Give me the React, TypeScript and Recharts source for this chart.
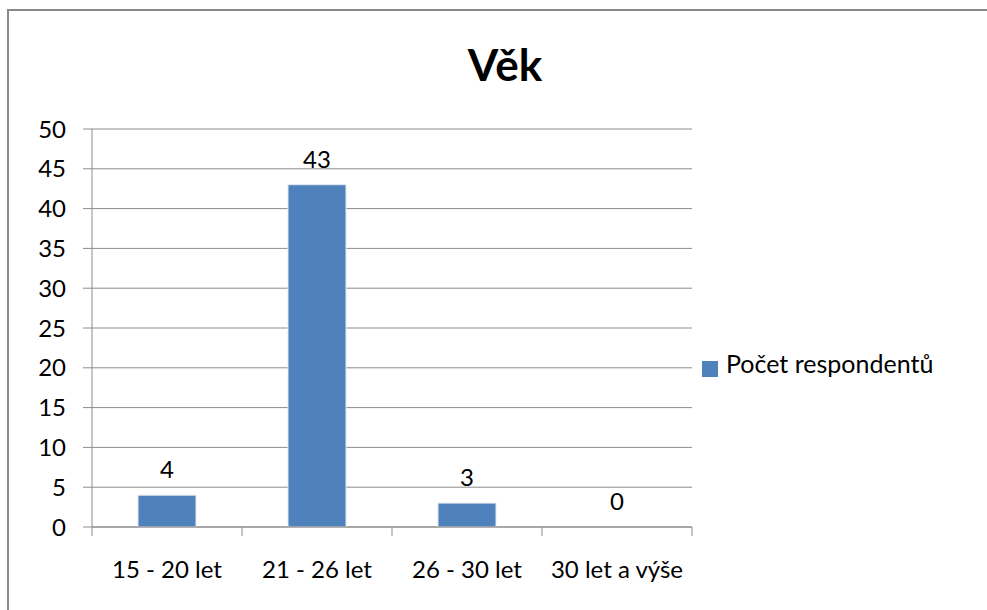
import React from "react";
import {
  ComposedChart,
  Bar,
  Line,
  XAxis,
  YAxis,
  CartesianGrid,
  Legend,
  LabelList,
} from "recharts";

const title = "Věk";
const seriesName = "Počet respondentů";
const categories = ["15 - 20 let", "21 - 26 let", "26 - 30 let", "30 let a výše"];
const respondents = [4, 43, 3, 0];
const yTicks = [0, 5, 10, 15, 20, 25, 30, 35, 40, 45, 50];

const data = categories.map((c, i) => ({ category: c, value: respondents[i] }));

const FONT = "Lato, 'Open Sans', sans-serif";
const GRAY = "#8c8c8c";
const COUNT = categories.length;

// Category tick: label at the band centre, tick marks at the band edges
const CategoryTick = (props: any) => {
  const { x, y, payload, index } = props;
  const half = payload && payload.offset ? payload.offset : 0;
  return (
    <g>
      <line x1={x - half} y1={y} x2={x - half} y2={y + 9} stroke={GRAY} />
      {index === COUNT - 1 && (
        <line x1={x + half} y1={y} x2={x + half} y2={y + 9} stroke={GRAY} />
      )}
      <text
        x={x}
        y={y + 42}
        dy="0.355em"
        textAnchor="middle"
        fill="#000"
        fontSize={24}
        fontFamily={FONT}
      >
        {payload.value}
      </text>
    </g>
  );
};

export default function App() {
  return (
    <div
      style={{
        position: "absolute",
        left: 0,
        top: 0,
        width: 987,
        height: 610,
        overflow: "hidden",
        background: "#fff",
        fontFamily: FONT,
      }}
    >
      <div
        style={{
          position: "absolute",
          left: 7,
          top: 9,
          width: 1400,
          height: 900,
          borderLeft: "2px solid #8a8a8a",
          borderTop: "2px solid #8a8a8a",
          boxSizing: "border-box",
        }}
      />
      <div
        style={{
          position: "absolute",
          left: 392,
          top: 34,
          width: 226,
          textAlign: "center",
          fontSize: 44,
          fontWeight: 700,
          color: "#000",
          lineHeight: "60px",
        }}
      >
        {title}
      </div>
      <div style={{ position: "absolute", left: 0, top: 0 }}>
        <ComposedChart
          width={987}
          height={610}
          data={data}
          margin={{ top: 129, right: 15, bottom: 33, left: 32 }}
        >
          <CartesianGrid vertical={false} stroke={GRAY} strokeWidth={1} />
          <XAxis
            dataKey="category"
            interval={0}
            axisLine={{ stroke: GRAY }}
            tickLine={false}
            tickSize={0}
            tickMargin={0}
            height={50}
            tick={<CategoryTick />}
          />
          <YAxis
            domain={[0, 50]}
            ticks={yTicks}
            interval={0}
            width={60}
            axisLine={{ stroke: GRAY }}
            tickLine={{ stroke: GRAY }}
            tickSize={9}
            tickMargin={17}
            tick={{ fill: "#000", fontSize: 24, fontFamily: FONT }}
          />
          <Legend
            layout="vertical"
            align="right"
            verticalAlign="middle"
            iconType="square"
            iconSize={16}
            wrapperStyle={{ left: 702, top: 348, right: "auto", width: 280 }}
            formatter={(v) => (
              <span
                style={{
                  color: "#000",
                  fontSize: 25,
                  fontFamily: FONT,
                  paddingLeft: 4,
                }}
              >
                {v}
              </span>
            )}
          />
          <Bar
            dataKey="value"
            name={seriesName}
            fill="#4F81BD"
            stroke="#e4e9f0"
            strokeWidth={1}
            barSize={58}
            isAnimationActive={false}
          />
          <Line
            dataKey="value"
            stroke="none"
            dot={false}
            activeDot={false}
            legendType="none"
            isAnimationActive={false}
          >
            <LabelList
              dataKey="value"
              position="top"
              offset={17}
              fill="#000"
              fontSize={24}
              fontFamily={FONT}
            />
          </Line>
        </ComposedChart>
      </div>
    </div>
  );
}
